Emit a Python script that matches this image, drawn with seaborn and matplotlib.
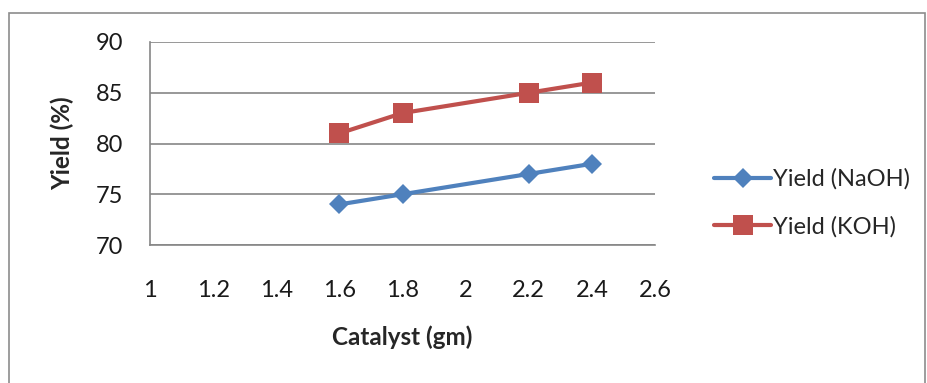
import matplotlib
matplotlib.use("Agg")
import matplotlib.pyplot as plt
import seaborn as sns
import pandas as pd
from matplotlib.patches import Rectangle

# Catalyst amount (gm) and biodiesel yield (%) for each catalyst
catalyst = [1.6, 1.8, 2.2, 2.4]
yield_naoh = [74, 75, 77, 78]
yield_koh = [81, 83, 85, 86]
series_names = ["Yield (NaOH)", "Yield (KOH)"]
x_ticks = [1, 1.2, 1.4, 1.6, 1.8, 2, 2.2, 2.4, 2.6]
x_tick_labels = ["1", "1.2", "1.4", "1.6", "1.8", "2", "2.2", "2.4", "2.6"]
y_ticks = [70, 75, 80, 85, 90]

df = pd.DataFrame({
    "Catalyst": catalyst * 2,
    "Yield": yield_naoh + yield_koh,
    "Series": [series_names[0]] * len(catalyst) + [series_names[1]] * len(catalyst),
})

sns.set_theme(style="white")
plt.rcParams["font.family"] = ["Lato", "DejaVu Sans"]

grid_col = "#868686"
fig = plt.figure(figsize=(9.27, 3.83), dpi=100)
ax = fig.add_axes([150 / 927, 1 - 245 / 383, 505 / 927, 203 / 383])

palette = {series_names[0]: "#4F81BD", series_names[1]: "#C0504D"}
markers = {series_names[0]: "D", series_names[1]: "s"}
sns.lineplot(data=df, x="Catalyst", y="Yield", hue="Series", style="Series",
             palette=palette, markers=markers, dashes=False, linewidth=3.0,
             markeredgewidth=0, ax=ax, legend=True)
# Excel-like marker sizes: diamonds and squares of similar visual extent
for line, ms in zip(ax.lines, [10.5, 14]):
    line.set_markersize(ms)

ax.set_xlim(1, 2.6)
ax.set_ylim(70, 90)
ax.set_xticks(x_ticks)
ax.set_xticklabels(x_tick_labels)
ax.set_yticks(y_ticks)
ax.tick_params(axis="x", length=0, pad=25, labelsize=17, colors="#1a1a1a")
ax.tick_params(axis="y", length=0, pad=19, labelsize=17, colors="#1a1a1a")
ax.yaxis.grid(True, color=grid_col, linewidth=1.2)
ax.xaxis.grid(False)
ax.set_axisbelow(True)
for side in ["top", "right"]:
    ax.spines[side].set_visible(False)
for side in ["left", "bottom"]:
    ax.spines[side].set_color(grid_col)
    ax.spines[side].set_linewidth(1.2)

ax.set_xlabel("Catalyst (gm)", fontsize=17.5, fontweight="bold", labelpad=18)
ax.set_ylabel("Yield (%)", fontsize=17.5, fontweight="bold", labelpad=16)

handles, labels = ax.get_legend_handles_labels()
for h, ms in zip(handles, [10.5, 14]):
    h.set_markersize(ms)
ax.legend_.remove()
fig.legend(handles, labels, loc="center left", bbox_to_anchor=(705 / 927, 1 - 203 / 383),
           frameon=False, fontsize=17, handlelength=2.4, handletextpad=0.1,
           labelspacing=1.1, borderaxespad=0)

# Outer chart border
fig.patches.append(Rectangle((9 / 927, -0.02), 916 / 927, 1 - 13 / 383 + 0.02,
                             transform=fig.transFigure, fill=False,
                             edgecolor="#8c8c8c", linewidth=1.2))

fig.savefig("out.png", dpi=100)
